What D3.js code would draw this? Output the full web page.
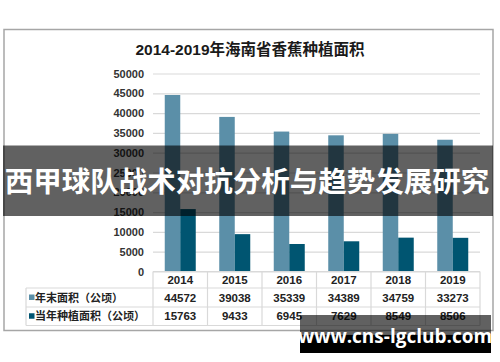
<!DOCTYPE html>
<html>
<head>
<meta charset="utf-8">
<script src="https://cdn.jsdelivr.net/npm/d3@7"></script>
<style>
  html, body { margin: 0; padding: 0; background: #fff; }
  svg { display: block; }
</style>
</head>
<body>
<svg id="chart" width="500" height="362"></svg>
<script>
// chart data
const years = ["2014", "2015", "2016", "2017", "2018", "2019"];
const yearEndArea = [44572, 39038, 35339, 34389, 34759, 33273];
const plantedArea = [15763, 9433, 6945, 7629, 8549, 8506];
const seriesNames = ["年末面积（公顷）", "当年种植面积（公顷）"];
const yTicks = [0, 5000, 10000, 15000, 20000, 25000, 30000, 35000, 40000, 45000, 50000];

const colors = ["#5b8fa8", "#005571"];
const font = "Arial, 'Liberation Sans', 'Noto Sans CJK SC', sans-serif";

const svg = d3.select("#chart");

// outer frame
svg.append("rect")
    .attr("x", 4).attr("y", 29.5)
    .attr("width", 489).attr("height", 301)
    .attr("fill", "#fff")
    .attr("stroke", "#a6a6a6")
    .attr("stroke-width", 1.5);

svg.append("text")
    .attr("x", 250).attr("y", 54.5)
    .attr("text-anchor", "middle")
    .attr("font-family", font)
    .attr("font-weight", "bold")
    .attr("font-size", 15.5)
    .attr("fill", "#1a1a1a")
    .text("2014-2019年海南省香蕉种植面积");

const x = d3.scaleBand().domain(years).range([153, 480]).padding(0);
const y = d3.scaleLinear().domain([0, 50000]).range([271.5, 73.5]);

// gridlines + y labels
const yAxis = d3.axisLeft(y).tickValues(yTicks).tickFormat(d3.format("d"))
    .tickSize(-(480 - 153)).tickPadding(9);
const gy = svg.append("g").attr("transform", "translate(153,0)").call(yAxis);
gy.select(".domain").remove();
gy.selectAll(".tick line").attr("stroke", "#d9d9d9").attr("stroke-width", 1.2);
gy.selectAll(".tick text")
    .attr("font-family", font)
    .attr("font-weight", "bold")
    .attr("font-size", 11)
    .attr("fill", "#333");

// bars
const bw = 15.5;
const series = [yearEndArea, plantedArea];
series.forEach((vals, si) => {
  svg.append("g").selectAll("rect")
    .data(vals)
    .join("rect")
      .attr("x", (d, i) => x(years[i]) + x.bandwidth() / 2 - bw + si * bw)
      .attr("y", d => y(d))
      .attr("width", bw)
      .attr("height", d => y(0) - y(d))
      .attr("fill", colors[si]);
});

// data table
const rowTops = [271.5, 288, 307, 325.5];
const legendLeft = 26;
const tbl = svg.append("g").attr("stroke", "#d9d9d9").attr("stroke-width", 1.2);
// horizontal lines
tbl.append("line").attr("x1", 153).attr("x2", 480).attr("y1", rowTops[0]).attr("y2", rowTops[0]);
[1, 2, 3].forEach(r => {
  tbl.append("line").attr("x1", legendLeft).attr("x2", 480).attr("y1", rowTops[r]).attr("y2", rowTops[r]);
});
// vertical lines
years.forEach(yr => {
  tbl.append("line").attr("x1", x(yr)).attr("x2", x(yr)).attr("y1", rowTops[0]).attr("y2", rowTops[3]);
});
tbl.append("line").attr("x1", 480).attr("x2", 480).attr("y1", rowTops[0]).attr("y2", rowTops[3]);
tbl.append("line").attr("x1", legendLeft).attr("x2", legendLeft).attr("y1", rowTops[1]).attr("y2", rowTops[3]);

const cellText = (sel) => sel
    .attr("font-family", font)
    .attr("font-weight", "bold")
    .attr("font-size", 11.5)
    .attr("fill", "#222")
    .attr("text-anchor", "middle");

svg.append("g").selectAll("text")
  .data(years)
  .join("text")
    .call(cellText)
    .attr("x", d => x(d) + x.bandwidth() / 2)
    .attr("y", (rowTops[0] + rowTops[1]) / 2 + 4.2)
    .text(d => d);

series.forEach((vals, si) => {
  svg.append("g").selectAll("text")
    .data(vals)
    .join("text")
      .call(cellText)
      .attr("x", (d, i) => x(years[i]) + x.bandwidth() / 2)
      .attr("y", (rowTops[si + 1] + rowTops[si + 2]) / 2 + 4.2)
      .text(d => d);

  const cy = (rowTops[si + 1] + rowTops[si + 2]) / 2;
  svg.append("rect")
    .attr("x", 29).attr("y", cy - 3)
    .attr("width", 5.5).attr("height", 5.5)
    .attr("fill", colors[si]);
  svg.append("text")
    .attr("x", 35).attr("y", cy + 4)
    .attr("font-family", "'Noto Sans CJK SC', sans-serif")
    .attr("font-weight", "bold")
    .attr("font-size", 11)
    .attr("fill", "#222")
    .text(seriesNames[si]);
});

// overlay banner
svg.append("rect")
    .attr("x", 3).attr("y", 145.5)
    .attr("width", 490).attr("height", 70.5)
    .attr("fill", "#000")
    .attr("fill-opacity", 0.62);
svg.append("text")
    .attr("x", 247).attr("y", 192)
    .attr("text-anchor", "middle")
    .attr("font-family", "'Noto Sans CJK SC', sans-serif")
    .attr("font-weight", "bold")
    .attr("font-size", 28.5)
    .attr("fill", "#fff")
    .text("西甲球队战术对抗分析与趋势发展研究");

// watermark
svg.append("rect")
    .attr("x", 300).attr("y", 315)
    .attr("width", 191).attr("height", 19.5)
    .attr("fill", "#000")
    .attr("fill-opacity", 0.62);
svg.append("rect")
    .attr("x", 300).attr("y", 334.5)
    .attr("width", 191).attr("height", 18.5)
    .attr("fill", "#000");
svg.append("text")
    .attr("x", 395).attr("y", 343)
    .attr("text-anchor", "middle")
    .attr("font-family", "'Open Sans', 'DejaVu Sans', sans-serif")
    .attr("font-weight", "bold")
    .attr("font-size", 19)
    .attr("fill", "#fff")
    .text("www.cns-lgclub.com");
</script>
</body>
</html>
